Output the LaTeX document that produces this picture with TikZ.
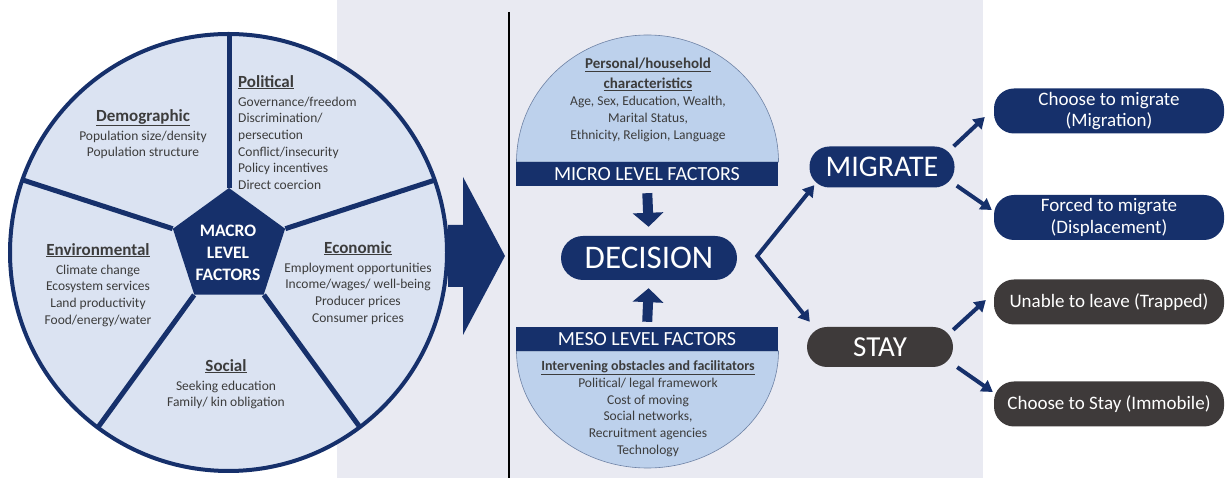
\documentclass[tikz,border=0pt]{standalone}
\usepackage{fontspec}
\setmainfont{Carlito}
\usetikzlibrary{positioning, arrows.meta, calc, shapes.geometric}
\definecolor{navy}{RGB}{22,48,107}
\definecolor{wheelfill}{RGB}{219,227,242}
\definecolor{discfill}{RGB}{189,209,236}
\definecolor{discline}{RGB}{110,130,165}
\definecolor{panel}{RGB}{233,234,242}
\definecolor{staygray}{RGB}{62,58,58}
\definecolor{bodytext}{RGB}{60,60,60}
\newcommand{\heading}[2][17]{\underline{\textbf{\fontsize{#1}{#1}\selectfont #2}}}
\tikzset{
  factor/.style={
	align=center, % every text block is centred line by line
	inner sep=0pt,
	text=bodytext,
	font=\fontsize{13.5}{16.6}\selectfont,
  },
  wheel/.style={draw=navy, line width=4pt, fill=wheelfill},
  spoke/.style={draw=navy, line width=5pt},
  pentagon/.style={regular polygon, regular polygon sides=5, minimum size=118pt, inner sep=0pt, fill=navy},
  macrotext/.style={align=center, text=white, font=\bfseries\fontsize{17.5}{22}\selectfont},
  disc/.style={fill=discfill, draw=discline, line width=0.6pt},
  band/.style={fill=navy, text=white, minimum width=262pt, minimum height=24pt, inner sep=0pt, font=\fontsize{20}{20}\selectfont},
  pill/.style={fill=navy, text=white, rounded corners=20pt, inner sep=0pt}, % rounded ends
  outcome/.style={pill, align=center, minimum width=230pt, minimum height=45pt, font=\fontsize{19}{21.5}\selectfont},
  branch/.style={draw=navy, line width=4pt}, % thick connector lines
  blockarrow/.style={draw=navy, line width=10pt, -{Triangle[width=30pt,length=14pt]}},
}

\begin{document}
\begin{tikzpicture}[x=1pt, y=1pt, >={Triangle[width=13pt,length=11pt]}]
\useasboundingbox (0,0) rectangle (1225,478);
\fill[panel] (337,0) rectangle (983,478);

% macro wheel
\coordinate (hub) at (228.5,225.5);
\draw[wheel] (hub) circle[radius=218.5];
\node[pentagon] (macro) at (229,231) {};
\begin{scope}
  \clip (hub) circle[radius=218.5];
  \foreach \a/\c in {90/1, 162/2, 234/3, 306/4, 18/5}
    \draw[spoke] (macro.corner \c) -- ++(\a:250);
\end{scope}
\node[macrotext] (macrolabel) at (228,225) {MACRO\\LEVEL\\FACTORS};

\node[factor, anchor=north] (demographic) at (143,369) {\heading{Demographic}\\[2.5pt] Population size/density\\ Population structure};
\node[factor, anchor=north west, align=left] (political) at (238,403) {\heading{Political}\\[2.5pt] Governance/freedom\\ Discrimination/\\ persecution\\ Conflict/insecurity\\ Policy incentives\\ Direct coercion};
\node[factor, anchor=north] (environmental) at (98,235) {\heading{Environmental}\\[2.5pt] Climate change\\ Ecosystem services\\ Land productivity\\ Food/energy/water};
\node[factor, anchor=north] (economic) at (358,237) {\heading{Economic}\\[2.5pt] Employment opportunities\\ Income/wages/ well-being\\ Producer prices\\ Consumer prices};
\node[factor, anchor=north] (social) at (226,119) {\heading{Social}\\[2.5pt] Seeking education\\ Family/ kin obligation};

% big arrow and divider
\fill[navy] (448,253) -- (463,253) -- (463,301) -- (505,222) -- (463,143) -- (463,191) -- (448,191) -- cycle;
\draw[black, line width=1.5pt] (509,466) -- (509,0);

% micro and meso halves
\filldraw[disc] (516.5,316) arc[start angle=180, end angle=0, x radius=131, y radius=127] -- cycle;
\node[band] (micro) at (647,304) {MICRO LEVEL FACTORS};
\node[factor, anchor=north] (microtext) at (648,420) {\heading[15]{Personal/household}\\[3.5pt] \heading[15]{characteristics}\\[0.5pt] Age, Sex, Education, Wealth,\\ Marital Status,\\ Ethnicity, Religion, Language};

\filldraw[disc] (516.5,127) arc[start angle=180, end angle=360, x radius=131, y radius=117] -- cycle;
\node[band] (meso) at (647,139) {MESO LEVEL FACTORS};
\node[factor, anchor=north] (mesotext) at (648,118) {\heading[14]{Intervening obstacles and facilitators}\\[1pt] Political/ legal framework\\ Cost of moving\\ Social networks,\\ Recruitment agencies\\ Technology};

\node[pill, minimum width=176pt, minimum height=44pt, rounded corners=22pt, font=\fontsize{33}{33}\selectfont] (decision) at (649,220) {DECISION};
\draw[blockarrow, shorten <=7pt, shorten >=9pt] (micro.south) -- (decision.north);
\draw[blockarrow, shorten <=5pt, shorten >=8pt] (meso.north) -- (decision.south);

% migrate or stay
\node[pill, minimum width=145pt, minimum height=41pt, font=\fontsize{30}{30}\selectfont] (migrate) at (882,311) {MIGRATE};
\node[pill, fill=staygray, minimum width=146pt, minimum height=40pt, font=\fontsize{29}{29}\selectfont] (stay) at (880,131) {STAY};
\coordinate (fork) at ($(decision.east)+(20,2)$);
\draw[branch, <->] ($(migrate.south west)+(5,2.5)$) -- (fork) -- ($(stay.north west)+(3,5)$);

\node[outcome] (choose) at (1109,367) {Choose to migrate\\(Migration)};
\node[outcome] (forced) at (1109,260.5) {Forced to migrate\\(Displacement)};
\node[outcome, fill=staygray] (trapped) at (1109,176) {Unable to leave (Trapped)};
\node[outcome, fill=staygray] (immobile) at (1109,74) {Choose to Stay (Immobile)};

\draw[branch, ->] ($(migrate.north east)+(-1,0)$) -- ($(choose.west)+(-9,-6)$);
\draw[branch, ->] ($(migrate.south east)+(2,2)$) -- ($(forced.west)+(-2,7.5)$);
\draw[branch, ->] ($(stay.north east)+(0,-3)$) -- ($(trapped.west)+(-8,2)$);
\draw[branch, ->] ($(stay.south east)+(4,0)$) -- ($(immobile.west)+(-1,12)$);
\end{tikzpicture}
\end{document}
